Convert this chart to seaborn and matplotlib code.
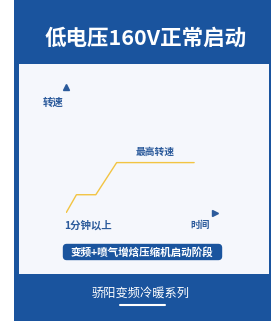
import matplotlib
matplotlib.use("Agg")
import matplotlib.pyplot as plt
from matplotlib.patches import Rectangle, FancyBboxPatch
import seaborn as sns

# data (time in arbitrary units, speed in arbitrary units)
time_points = [0.0, 0.7, 2.0, 3.4, 8.6]
speed_values = [0.0, 1.45, 1.45, 4.0, 4.0]

title_text = "低电压160V正常启动"
y_label = "转速"
x_label = "时间"
max_label = "最高转速"
start_label = "1分钟以上"
stage_label = "变频+喷气增焓压缩机启动阶段"
footer_text = "骄阳变频冷暖系列"

BLUE = "#1a549e"
PANEL = "#f5f7fc"
TEXT_BLUE = "#2b5a9b"
GOLD = "#f2c443"

sns.set_theme(style="white")
plt.rcParams["font.family"] = ["Noto Sans CJK SC", "DejaVu Sans"]

W, H = 271, 321
fig = plt.figure(figsize=(W / 100, H / 100), dpi=100)
fig.patch.set_facecolor("white")

# background layer in pixel coordinates
bg = fig.add_axes([0, 0, 1, 1])
bg.set_xlim(0, W)
bg.set_ylim(H, 0)
bg.axis("off")
bg.add_patch(Rectangle((13.5, 0), W - 13.5, H, facecolor=BLUE, edgecolor="none"))
bg.add_patch(Rectangle((19, 64), 250, 210, facecolor=PANEL, edgecolor="none"))

bg.text(145.5, 38, title_text, color="white", fontsize=15.5, fontweight="bold",
        ha="center", va="center")

bg.text(53.5, 103, y_label, color=TEXT_BLUE, fontsize=7.5, fontweight="bold",
        ha="center", va="center")
bg.text(155.5, 152, max_label, color=TEXT_BLUE, fontsize=7, fontweight="bold",
        ha="center", va="center")
bg.text(87.5, 225, start_label, color=TEXT_BLUE, fontsize=7.5, fontweight="bold",
        ha="center", va="center")
bg.text(200, 225, x_label, color=TEXT_BLUE, fontsize=7, fontweight="bold",
        ha="center", va="center")

bg.add_patch(FancyBboxPatch((64, 245), 157, 14, boxstyle="round,pad=1.2,rounding_size=4",
                            facecolor=BLUE, edgecolor="none"))
bg.text(142, 252, stage_label, color="white", fontsize=7.6, fontweight="bold",
        ha="center", va="center")

bg.text(141, 293, footer_text, color="white", fontsize=8.8,
        ha="center", va="center")
bg.plot([120, 165], [305, 305], color="white", lw=1.5)

# chart area
ax = fig.add_axes([66 / W, 1 - 213 / H, 149 / W, 126 / H])
ax.set_xlim(0, 10)
ax.set_ylim(0, 10)
ax.patch.set_alpha(0)
sns.lineplot(x=time_points, y=speed_values, ax=ax, color=GOLD, lw=1.0)
ax.plot([0], [1], marker="^", color=TEXT_BLUE, ms=5, transform=ax.transAxes, clip_on=False)
ax.plot([1], [0], marker=">", color=TEXT_BLUE, ms=5, transform=ax.transAxes, clip_on=False)
ax.set_xticks([])
ax.set_yticks([])
sns.despine(ax=ax, left=True, bottom=True)

fig.savefig("out.png", dpi=100)
